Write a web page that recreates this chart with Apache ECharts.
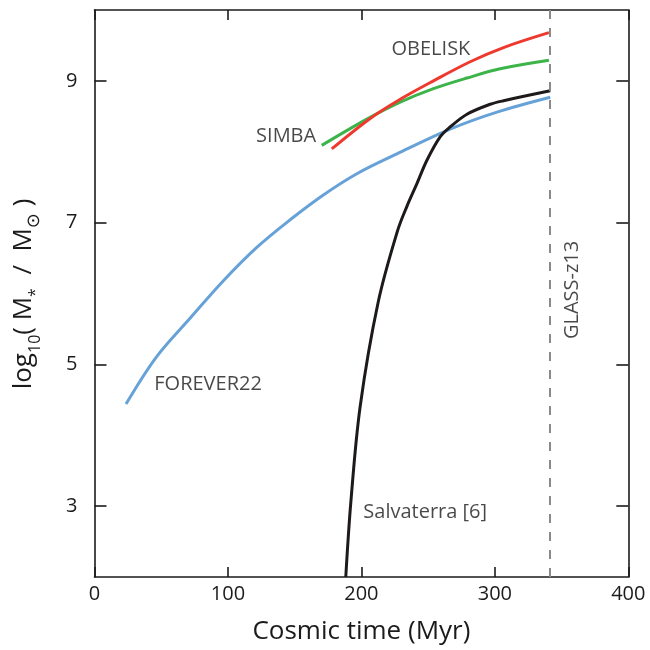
<!DOCTYPE html>
<html>
<head>
<meta charset="utf-8">
<script src="https://cdn.jsdelivr.net/npm/echarts@6/dist/echarts.min.js"></script>
<style>html,body{margin:0;padding:0;background:#fff}#c{width:650px;height:650px}</style>
</head>
<body>
<div id="c"></div>
<script>
// ---- data ----
const forever22Time = [23.6, 46.6, 71.6, 96.6, 121.6, 146.6, 171.5, 196.6, 226.6, 266.5, 301.6, 341.5];
const forever22Mass = [4.44, 5.11, 5.65, 6.18, 6.65, 7.04, 7.39, 7.69, 7.97, 8.32, 8.56, 8.77];

const salvaterraTime = [188.3, 192.1, 199.1, 212.6, 227.0, 234.1, 241.6, 249.1, 259.0, 266.5, 279.1, 296.5, 306.5, 341.5];
const salvaterraMass = [2.0, 3.06, 4.41, 5.88, 6.88, 7.23, 7.55, 7.88, 8.21, 8.35, 8.53, 8.67, 8.72, 8.86];

const simbaTime = [170.3, 204.1, 229.1, 254.0, 279.1, 304.0, 340.5];
const simbaMass = [8.09, 8.46, 8.70, 8.89, 9.04, 9.17, 9.29];

const obeliskTime = [177.8, 206.6, 229.1, 254.0, 281.5, 306.5, 340.5];
const obeliskMass = [8.04, 8.47, 8.74, 9.00, 9.27, 9.47, 9.68];

const glassTime = 341.5;

const yTickValues = [3, 5, 7, 9];

const labelNames = ['OBELISK', 'SIMBA', 'FOREVER22', 'Salvaterra [6]', 'GLASS-z13'];
const labelTime  = [252.1, 143.6, 85.1, 247.8, 357.8];
const labelMass  = [9.45, 8.225, 4.718, 2.915, 6.05];
const labelRotate = [0, 0, 0, 0, 90];

// ---- helpers ----
const zip = (xs, ys) => xs.map((x, i) => [x, ys[i]]);
const INK = '#1c1a1b';
const FONT = 'Open Sans';

const chart = echarts.init(document.getElementById('c'), null, {renderer: 'canvas'});

const axisLine = {show: true, onZero: false, lineStyle: {color: INK, width: 1.6}};

function lineSeries(name, xs, ys, color, extra) {
  return Object.assign({
    type: 'line', name: name, data: zip(xs, ys),
    showSymbol: false, symbol: 'none', smooth: 0.35,
    lineStyle: {color: color, width: 3}, itemStyle: {color: color},
    clip: true, silent: true
  }, extra || {});
}

chart.setOption({
  animation: false,
  backgroundColor: '#fff',
  grid: {left: 94.5, right: 21.7, top: 10, bottom: 67.5, containLabel: false},
  xAxis: [
    {
      type: 'value', min: 0, max: 400, interval: 100, position: 'bottom',
      axisLine: axisLine,
      axisTick: {show: true, inside: true, length: 10, lineStyle: {color: INK, width: 1.6}},
      axisLabel: {margin: 7, fontSize: 20, color: INK, fontFamily: FONT},
      splitLine: {show: false},
      name: 'Cosmic time (Myr)', nameLocation: 'middle', nameGap: 42,
      nameTextStyle: {fontSize: 26, color: INK, fontFamily: FONT}
    },
    {
      type: 'value', min: 0, max: 400, interval: 100, position: 'top',
      axisLine: axisLine,
      axisTick: {show: true, inside: true, length: 10, lineStyle: {color: INK, width: 1.6}},
      axisLabel: {show: false},
      splitLine: {show: false}
    }
  ],
  yAxis: [
    {
      type: 'value', min: 2, max: 10, position: 'left',
      axisLine: axisLine,
      axisTick: {show: true, inside: true, length: 12, customValues: yTickValues, lineStyle: {color: INK, width: 1.6}},
      axisLabel: {show: true, customValues: yTickValues, margin: 17, fontSize: 20, color: INK, fontFamily: FONT},
      splitLine: {show: false}
    },
    {
      type: 'value', min: 2, max: 10, position: 'right',
      axisLine: axisLine,
      axisTick: {show: true, inside: true, length: 12, customValues: yTickValues, lineStyle: {color: INK, width: 1.6}},
      axisLabel: {show: false},
      splitLine: {show: false}
    }
  ],
  series: [
    lineSeries('FOREVER22', forever22Time, forever22Mass, '#66a2d8', {
      markLine: {
        silent: true, symbol: 'none', label: {show: false},
        lineStyle: {color: '#8a8a8a', width: 2, type: [9, 9]},
        data: [{xAxis: glassTime}]
      }
    }),
    lineSeries('Salvaterra', salvaterraTime, salvaterraMass, '#1e1a1b'),
    lineSeries('SIMBA', simbaTime, simbaMass, '#3cb44a'),
    lineSeries('OBELISK', obeliskTime, obeliskMass, '#ee3a2e'),
    {
      type: 'scatter', silent: true, symbolSize: 1,
      itemStyle: {color: 'rgba(0,0,0,0)'},
      data: labelNames.map((n, i) => ({
        name: n, value: [labelTime[i], labelMass[i]],
        label: {rotate: labelRotate[i]}
      })),
      label: {
        show: true, position: 'inside', formatter: p => p.name,
        fontSize: 20, color: INK, fontFamily: FONT
      }
    }
  ],
  graphic: [
    {
      type: 'text', x: 23.7, y: 294, rotation: Math.PI / 2, silent: true,
      style: {
        text: '{a|log}{s|10}{a|( M}{s|*}{a|  /  M}{o|⊙}{a| )}',
        align: 'center', verticalAlign: 'middle',
        rich: {
          a: {fontSize: 26, fontFamily: FONT, fill: INK, lineHeight: 40},
          s: {fontSize: 16, fontFamily: FONT, fill: INK, lineHeight: 14, verticalAlign: 'bottom'},
          o: {fontSize: 18, fontFamily: 'DejaVu Sans', fill: INK, lineHeight: 15, verticalAlign: 'bottom'}
        }
      }
    }
  ]
});
</script>
</body>
</html>
